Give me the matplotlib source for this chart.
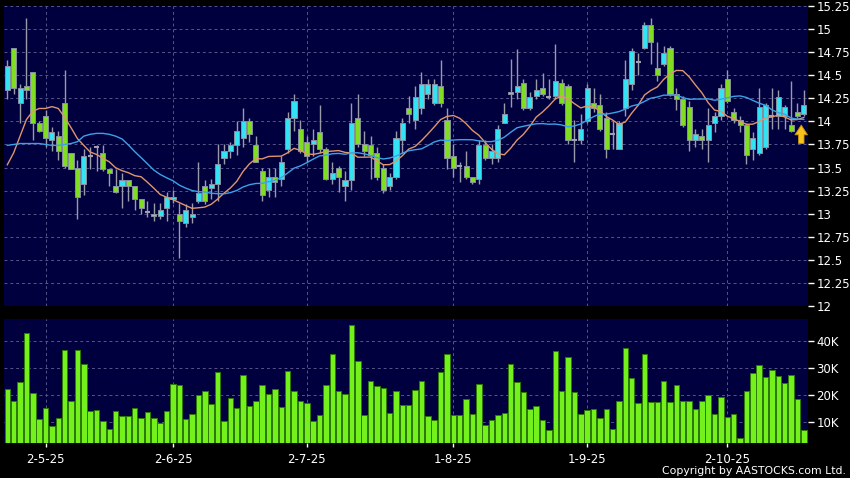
import matplotlib
matplotlib.use("Agg")
import matplotlib.pyplot as plt
import numpy as np
import pandas as pd

# ---------------- data ----------------
opens = [14.34, 14.80, 14.20, 14.38, 14.54, 13.98, 14.06, 13.80, 13.84, 14.20,
         13.66, 13.50, 13.32, 13.62, 13.72, 13.66, 13.48, 13.30, 13.30, 13.36,
         13.30, 13.16, 13.02, 13.00, 12.98, 13.06, 13.16, 13.00, 12.90, 12.96,
         13.14, 13.30, 13.28, 13.32, 13.60, 13.68, 13.74, 13.82, 14.00, 13.74,
         13.46, 13.26, 13.40, 13.38, 13.70, 14.04, 13.92, 13.78, 13.76, 13.88,
         13.70, 13.38, 13.50, 13.30, 13.36, 14.04, 13.76, 13.74, 13.66, 13.50,
         13.30, 13.40, 13.80, 14.14, 14.02, 14.14, 14.30, 14.20, 14.38, 14.02,
         13.62, 13.52, 13.52, 13.40, 13.38, 13.74, 13.60, 13.60, 13.98, 14.30,
         14.32, 14.42, 14.14, 14.28, 14.36, 14.26, 14.28, 14.42, 14.38, 13.80,
         13.80, 14.00, 14.20, 14.18, 14.04, 13.86, 13.70, 14.14, 14.40, 14.64,
         14.80, 15.04, 14.58, 14.62, 14.80, 14.30, 14.24, 14.16, 13.80, 13.84,
         13.80, 13.98, 14.06, 14.46, 14.10, 14.02, 13.96, 13.70, 13.66, 13.72,
         14.06, 14.06, 14.06, 13.96, 14.10, 14.08]
highs = [14.66, 14.80, 14.40, 15.12, 14.54, 14.00, 14.12, 13.94, 13.90, 14.56,
         13.66, 13.58, 13.70, 13.72, 13.74, 13.74, 13.48, 13.48, 13.44, 13.36,
         13.30, 13.16, 13.14, 13.12, 13.12, 13.24, 13.26, 13.12, 13.10, 13.12,
         13.56, 13.36, 13.38, 13.76, 13.76, 13.78, 14.00, 14.14, 14.04, 13.84,
         13.50, 13.50, 13.50, 13.62, 14.10, 14.30, 14.02, 13.84, 13.92, 14.18,
         13.72, 13.56, 13.52, 13.46, 14.20, 14.30, 13.90, 13.84, 13.72, 13.54,
         13.44, 13.90, 14.04, 14.28, 14.38, 14.54, 14.46, 14.46, 14.66, 14.14,
         13.76, 13.56, 13.68, 13.40, 13.80, 13.80, 13.76, 13.96, 14.20, 14.68,
         14.78, 14.46, 14.32, 14.46, 14.52, 14.46, 14.84, 14.46, 14.40, 14.02,
         14.08, 14.40, 14.36, 14.30, 14.10, 14.00, 14.00, 14.66, 14.80, 14.74,
         15.08, 15.12, 14.86, 14.82, 14.82, 14.36, 14.28, 14.22, 13.92, 13.92,
         14.14, 14.10, 14.40, 14.56, 14.14, 14.06, 13.98, 13.88, 14.36, 14.20,
         14.36, 14.34, 14.18, 14.44, 14.20, 14.34]
lows = [14.24, 14.30, 13.98, 14.24, 13.80, 13.88, 13.72, 13.68, 13.58, 13.50,
        13.48, 12.94, 13.20, 13.48, 13.46, 13.46, 13.30, 13.22, 13.06, 13.14,
        13.04, 13.00, 12.96, 12.92, 12.94, 12.92, 13.12, 12.52, 12.86, 12.90,
        13.12, 13.10, 13.16, 13.14, 13.54, 13.60, 13.64, 13.72, 13.78, 13.56,
        13.14, 13.18, 13.18, 13.30, 13.66, 13.90, 13.66, 13.56, 13.62, 13.66,
        13.36, 13.32, 13.24, 13.14, 13.26, 13.72, 13.62, 13.38, 13.36, 13.22,
        13.26, 13.38, 13.66, 13.98, 13.92, 14.08, 14.24, 14.18, 14.16, 13.48,
        13.40, 13.34, 13.38, 13.32, 13.32, 13.58, 13.54, 13.56, 13.98, 14.16,
        14.24, 14.12, 14.12, 14.24, 14.28, 14.24, 14.24, 14.18, 13.76, 13.56,
        13.76, 13.98, 14.10, 13.90, 13.60, 13.70, 13.70, 14.06, 14.34, 14.50,
        14.78, 14.62, 14.44, 14.60, 14.28, 14.12, 13.94, 13.68, 13.72, 13.70,
        13.56, 13.88, 14.02, 14.20, 13.98, 13.88, 13.54, 13.58, 13.64, 13.70,
        13.92, 13.92, 13.92, 13.88, 14.04, 14.06]
closes = [14.60, 14.36, 14.36, 14.34, 13.98, 13.90, 13.82, 13.88, 13.68, 13.52,
          13.48, 13.18, 13.62, 13.62, 13.72, 13.48, 13.44, 13.24, 13.36, 13.30,
          13.16, 13.06, 13.02, 12.98, 13.04, 13.18, 13.18, 12.92, 13.04, 13.00,
          13.22, 13.14, 13.32, 13.54, 13.68, 13.74, 13.90, 14.00, 13.86, 13.56,
          13.20, 13.40, 13.34, 13.56, 14.04, 14.22, 13.68, 13.62, 13.80, 13.70,
          13.38, 13.44, 13.40, 13.36, 13.98, 13.76, 13.68, 13.64, 13.40, 13.26,
          13.40, 13.82, 13.98, 14.08, 14.26, 14.40, 14.40, 14.40, 14.20, 13.60,
          13.50, 13.52, 13.40, 13.34, 13.74, 13.60, 13.68, 13.92, 14.08, 14.32,
          14.38, 14.14, 14.26, 14.34, 14.30, 14.26, 14.44, 14.20, 13.80, 13.80,
          13.92, 14.36, 14.14, 13.92, 13.70, 13.86, 13.98, 14.46, 14.76, 14.64,
          15.04, 14.86, 14.50, 14.74, 14.30, 14.24, 13.96, 13.80, 13.86, 13.80,
          13.96, 14.06, 14.36, 14.22, 14.02, 13.96, 13.64, 13.82, 14.16, 14.18,
          14.06, 14.26, 14.16, 13.90, 14.06, 14.18]
# volume in thousands
volumes_k = [22.3, 17.9, 24.8, 43.1, 20.7, 11.2, 15.4, 8.8, 11.5, 36.5, 18.0, 36.5,
             31.6, 14.3, 14.7, 10.6, 7.4, 14.0, 12.2, 12.2, 15.2, 11.5, 13.7, 11.6,
             9.9, 14.3, 24.2, 23.6, 11.1, 13.1, 20.2, 21.5, 16.8,
             28.5, 10.5, 19.0, 15.1, 27.5, 16.0, 17.9, 23.8, 20.4, 22.2, 15.7, 28.9,
             21.4, 17.9, 17.0, 10.5, 12.6, 23.6, 35.3, 21.5, 20.4, 46.0, 32.6, 12.6,
             25.3, 23.5, 22.5, 13.5, 21.6, 16.2, 16.2, 21.9, 25.2,
             12.3, 10.7, 28.5, 35.2, 12.7, 12.7, 18.6, 13.1, 24.2, 9.1, 11.0, 12.7,
             13.5, 31.5, 24.8, 21.0, 14.9, 16.0, 10.7, 7.2, 36.4, 21.5, 34.1, 21.2,
             13.1, 14.4, 14.9, 11.6, 14.9, 7.5, 17.7, 37.3, 26.4,
             17.0, 35.2, 17.3, 17.5, 25.4, 17.4, 23.6, 17.9, 17.9, 14.8, 17.8, 20.1,
             13.0, 19.4, 12.0, 13.1, 4.2, 21.5, 28.1, 31.2, 26.8, 29.3, 27.0, 24.4,
             27.5, 18.5, 7.0]
# moving-average values at the first bars (window not yet full in shown data)
ma10_start = [13.53, 13.66, 13.84, 14.02, 14.11, 14.14, 14.14, 14.16, 14.14]
ma20_start = [13.74, 13.75, 13.76, 13.76, 13.76, 13.76, 13.75, 13.74, 13.74, 13.75,
              13.76, 13.78, 13.84, 13.86, 13.87, 13.87, 13.86, 13.84, 13.81]

date_tick_idx = [6, 26, 47, 70, 91, 113]
date_tick_labels = ["2-5-25", "2-6-25", "2-7-25", "1-8-25", "1-9-25", "2-10-25"]
price_ticks = [12, 12.25, 12.5, 12.75, 13, 13.25, 13.5, 13.75, 14, 14.25, 14.5, 14.75, 15, 15.25]
price_tick_labels = ["12", "12.25", "12.5", "12.75", "13", "13.25", "13.5", "13.75",
                     "14", "14.25", "14.5", "14.75", "15", "15.25"]
vol_ticks = [10000, 20000, 30000, 40000]
vol_tick_labels = ["10K", "20K", "30K", "40K"]
last_arrow = (124.6, 13.73, 13.99)

# ---------------- derived ----------------
o = np.array(opens); h = np.array(highs); l = np.array(lows); c = np.array(closes)
v = np.array(volumes_k) * 1000
x = np.arange(len(c))
cs = pd.Series(c)
ma10 = cs.rolling(10).mean().to_numpy()
ma10[:len(ma10_start)] = ma10_start
ma20 = cs.rolling(20).mean().to_numpy()
ma20[:len(ma20_start)] = ma20_start

UP = "#33e3f3"
DOWN = "#80dd22"
FLAT = "#a0a0b0"
NAVY = "#00003f"
GRID = "#55558a"

W, H = 850, 478
fig = plt.figure(figsize=(W / 100, H / 100), dpi=100, facecolor="black")

def px_axes(left, top, right, bottom):
    return fig.add_axes([left / W, 1 - bottom / H, (right - left) / W, (bottom - top) / H])

ax_p = px_axes(4, 6, 808, 306)
ax_v = px_axes(4, 319, 808, 443.3)

for ax in (ax_p, ax_v):
    ax.set_facecolor(NAVY)
    for s in ax.spines.values():
        s.set_visible(False)
    ax.set_xlim(-0.52, 125.66)
    ax.set_axisbelow(True)

# ---- price panel ----
ax_p.vlines(x, l, h, color="#9a9aa8", lw=1.0, zorder=2)
up = c > o
dn = c < o
fl = c == o
ax_p.bar(x[up], (c - o)[up], bottom=o[up], width=0.8, color=UP,
         edgecolor="#8890a0", lw=0.7, zorder=3)
ax_p.bar(x[dn], (o - c)[dn], bottom=c[dn], width=0.8, color=DOWN,
         edgecolor="#8890a0", lw=0.7, zorder=3)
ax_p.hlines(c[fl], x[fl] - 0.4, x[fl] + 0.4, color=FLAT, lw=1.5, zorder=3)
ax_p.plot(x, ma10, color="#e0956a", lw=1.0, zorder=4)
ax_p.plot(x, ma20, color="#3aa2e6", lw=1.0, zorder=4)

ax_p.annotate("", xy=(last_arrow[0], last_arrow[2]), xytext=(last_arrow[0], last_arrow[1]),
              arrowprops=dict(arrowstyle="simple,head_width=0.9,head_length=0.7,tail_width=0.4",
                              fc="#f7c21a", ec="#c89000", lw=0.6), zorder=5)

ax_p.set_ylim(12, 15.25)
ax_p.yaxis.tick_right()
ax_p.set_yticks(price_ticks)
ax_p.set_yticklabels(price_tick_labels)
ax_p.set_xticks(date_tick_idx)
ax_p.tick_params(axis="x", bottom=False, labelbottom=False)
ax_p.tick_params(axis="y", colors="white", labelcolor="white", labelsize=8.5,
                 length=4, width=1, direction="out", pad=2)
ax_p.grid(True, color=GRID, linestyle=(0, (3, 3)), lw=0.7)

# ---- volume panel ----
ax_v.bar(x, v, width=0.86, color="#74f01c", edgecolor="#2d7a06", lw=0.7, zorder=3)
ax_v.set_ylim(2250, 48100)
ax_v.yaxis.tick_right()
ax_v.set_yticks(vol_ticks)
ax_v.set_yticklabels(vol_tick_labels)
ax_v.set_xticks(date_tick_idx)
ax_v.set_xticklabels(date_tick_labels)
ax_v.tick_params(axis="y", colors="white", labelcolor="white", labelsize=8.5,
                 length=4, width=1, direction="out", pad=2)
ax_v.tick_params(axis="x", colors="white", labelcolor="white", labelsize=8.5,
                 length=3, width=1, direction="out", pad=4)
ax_v.grid(True, color=GRID, linestyle=(0, (3, 3)), lw=0.7)

fig.text(846 / W, 1 - 471 / H, "Copyright by AASTOCKS.com Ltd.", ha="right", va="center",
         color="white", fontsize=7.8)

fig.savefig("out.png", dpi=100, facecolor="black")
